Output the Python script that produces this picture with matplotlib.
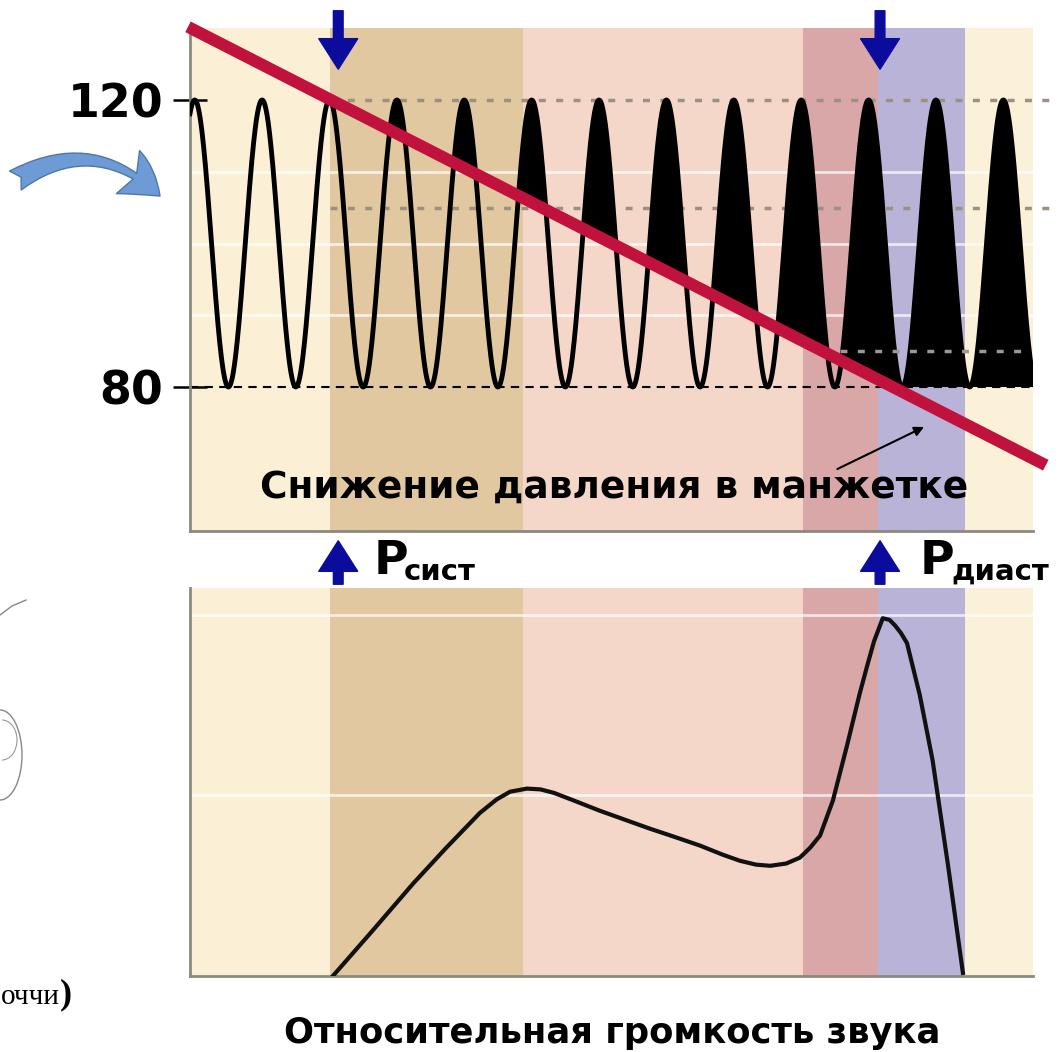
import numpy as np
import matplotlib.pyplot as plt
from matplotlib.patches import FancyArrowPatch, Arc
from matplotlib.lines import Line2D

plt.rcParams['font.family'] = ['DejaVu Sans']

# --- данные ---
# пики пульсовой волны (в "ударах" по оси времени)
peak_x = [0.07, 1.07, 2.07, 3.07, 4.07, 5.07, 6.07, 7.07, 8.07, 9.07, 10.07, 11.07, 12.07]
p_sys = 120
p_dia = 80
# давление в манжетке (прямая линия)
cuff_x = [-0.03, 12.70]
cuff_p = [130.2, 69.1]
# цветные полосы (границы по оси времени) и их цвета
band_edges = [0.0, 2.08, 4.94, 9.09, 10.21, 11.50, 12.51]
band_colors = ['#FBF0D6', '#E2C8A0', '#F5D7CA', '#D9A7A7', '#B9B3D7', '#FBF1D8']
# отметки P сист / P диаст
psys_x = 2.2
pdia_x = 10.24
# громкость звука (относительная)
snd_x = [2.12, 2.7, 3.31, 3.8, 4.30, 4.55, 4.75, 5.0, 5.2, 5.4, 5.7, 6.08, 6.45, 6.82, 7.2, 7.57,
         7.9, 8.16, 8.4, 8.61, 8.85, 9.05, 9.2, 9.35, 9.54, 9.75, 9.94, 10.05, 10.15, 10.28,
         10.38, 10.46, 10.55, 10.64, 10.83, 11.02, 11.25, 11.47]
snd_y = [0.0, 0.115, 0.238, 0.33, 0.42, 0.455, 0.475, 0.483, 0.481, 0.472, 0.452, 0.426, 0.403,
         0.38, 0.358, 0.336, 0.313, 0.297, 0.287, 0.284, 0.29, 0.305, 0.33, 0.362, 0.452, 0.594,
         0.729, 0.80, 0.862, 0.922, 0.918, 0.904, 0.884, 0.858, 0.724, 0.556, 0.284, 0.008]

fig = plt.figure(figsize=(10.58, 10.52), dpi=100)
W, H = 1058, 1052

def fx(px):
    return px / W

def fy(py):
    return 1 - py / H

ax1 = fig.add_axes([fx(190), fy(530.5), 843 / W, 502.25 / H])
ax2 = fig.add_axes([fx(190), fy(976), 843 / W, 388 / H])

for ax in (ax1, ax2):
    for i in range(len(band_colors)):
        ax.axvspan(band_edges[i], band_edges[i + 1], color=band_colors[i], lw=0, zorder=0)
    ax.set_xlim(band_edges[0], band_edges[-1])
    ax.spines['top'].set_visible(False)
    ax.spines['right'].set_visible(False)
    ax.spines['left'].set_color('#8A8A80')
    ax.spines['bottom'].set_color('#8A8A80')
    ax.spines['left'].set_linewidth(2)
    ax.spines['bottom'].set_linewidth(2)
    ax.set_xticks([])
    ax.patch.set_alpha(0)

# верхний график: пульсовая волна
ax1.set_ylim(60, 130)
for yy in [110, 100, 90]:
    ax1.axhline(yy, color='white', lw=2, alpha=0.7, zorder=1)

xw = []
pw = []
for k in range(len(peak_x)):
    a = peak_x[k]
    t = np.linspace(0, 1, 120)
    if k == 0:
        t0 = np.linspace(-0.07, 0, 10)
        xw.extend(a + t0)
        pw.extend(p_dia + (p_sys - p_dia) * (0.5 + 0.5 * np.cos(2 * np.pi * t0)))
    xw.extend(a + t)
    pw.extend(p_dia + (p_sys - p_dia) * (0.5 + 0.5 * np.cos(2 * np.pi * t)))
xw = np.array(xw)
pw = np.array(pw)
cuff_w = np.interp(xw, cuff_x, cuff_p)

ax1.fill_between(xw, np.maximum(cuff_w, p_dia), pw, where=pw >= cuff_w, interpolate=True,
                 color='black', lw=0, zorder=3)
ax1.plot(xw, pw, color='black', lw=3.5, zorder=4)

# пунктирные линии
ax1.plot([band_edges[1], 12.76], [120, 120], ls=(0, (2, 3)), color='#9C9080', lw=2.5,
         clip_on=False, zorder=2)
ax1.plot([band_edges[1], 12.76], [105, 105], ls=(0, (2, 3)), color='#9C9080', lw=2.5,
         clip_on=False, zorder=2)
ax1.plot([9.64, 12.46], [85, 85], ls=(0, (2, 3)), color='#A09890', lw=2.5, zorder=5)
ax1.plot([0, 12.46], [80, 80], ls=(0, (4, 3)), color='black', lw=1.5, zorder=2)

# манжетка
ax1.plot(cuff_x, cuff_p, color='#C0123C', lw=8.6, solid_capstyle='butt', clip_on=False, zorder=6)
ax1.annotate('', xy=(10.93, 74.6), xytext=(9.57, 68.4),
             arrowprops=dict(arrowstyle='-|>', color='black', lw=1.5, mutation_scale=14), zorder=5)

ax1.set_yticks([80, 120])
ax1.set_yticklabels(['80', '120'], fontsize=33, fontweight='bold')
ax1.tick_params(axis='y', direction='inout', length=24, width=1.8, color='black', pad=7)

ax1.text(fx(614), fy(488), 'Снижение давления в манжетке', transform=fig.transFigure,
         ha='center', va='center', fontsize=27, fontweight='bold', zorder=7)

# нижний график: громкость звука
ax2.set_ylim(0, 1)
ax2.set_yticks([])
for yy in [0.93, 0.466]:
    ax2.axhline(yy, color='white', lw=2, alpha=0.7, zorder=1)
ax2.plot(snd_x, snd_y, color='#111111', lw=3, solid_joinstyle='round', zorder=3)

# синие стрелки
arrow_kw = dict(arrowstyle='simple,head_length=1.1,head_width=1.4,tail_width=0.35',
                mutation_scale=20, fc='#0C0C9C', ec='#0C0C9C')
for xx in (psys_x, pdia_x):
    ax1.annotate('', xy=(xx, (530.5 - 72) / 502.25), xytext=(xx, (530.5 - 8) / 502.25),
                 xycoords=ax1.get_xaxis_transform(), textcoords=ax1.get_xaxis_transform(),
                 arrowprops=arrow_kw, annotation_clip=False, zorder=8)
    ax2.annotate('', xy=(xx, (976 - 538) / 388), xytext=(xx, (976 - 587) / 388),
                 xycoords=ax2.get_xaxis_transform(), textcoords=ax2.get_xaxis_transform(),
                 arrowprops=arrow_kw, annotation_clip=False, zorder=8)

fig.text(fx(374), fy(562), 'P', fontsize=34, fontweight='bold', ha='left', va='center')
fig.text(fx(404), fy(572), 'сист', fontsize=21, fontweight='bold', ha='left', va='center')
fig.text(fx(920), fy(562), 'P', fontsize=34, fontweight='bold', ha='left', va='center')
fig.text(fx(951), fy(572), 'диаст', fontsize=21, fontweight='bold', ha='left', va='center')

fig.text(fx(612), fy(1033), 'Относительная громкость звука', fontsize=25.5, fontweight='bold',
         ha='center', va='center')

# изогнутая стрелка слева
fig.patches.append(FancyArrowPatch((fx(13), fy(182)), (fx(162), fy(198)), transform=fig.transFigure,
                                   connectionstyle='arc3,rad=-0.4',
                                   arrowstyle='fancy,head_length=0.9,head_width=1.1,tail_width=0.5',
                                   mutation_scale=32, fc='#6E9BD6', ec='#4F76AA', lw=1))

# обрывок рисунка и подписи слева
fig.lines.append(Line2D([fx(0), fx(12), fx(26)], [fy(615), fy(606), fy(600)],
                        transform=fig.transFigure, color='#888888', lw=1))
fig.patches.append(Arc((fx(0), fy(755)), 44 / W, 90 / H, theta1=-90, theta2=90,
                       transform=fig.transFigure, color='#888888', lw=1))
fig.patches.append(Arc((fx(2), fy(740)), 30 / W, 40 / H, theta1=-90, theta2=90,
                       transform=fig.transFigure, color='#999999', lw=0.8))
fig.text(fx(60), fy(997), 'оччи', fontsize=21, family='Liberation Serif', ha='right', va='center')
fig.text(fx(60), fy(995), ')', fontsize=26, family='Liberation Serif', fontweight='bold',
         ha='left', va='center')

fig.savefig('out.png', dpi=100, facecolor='white')
